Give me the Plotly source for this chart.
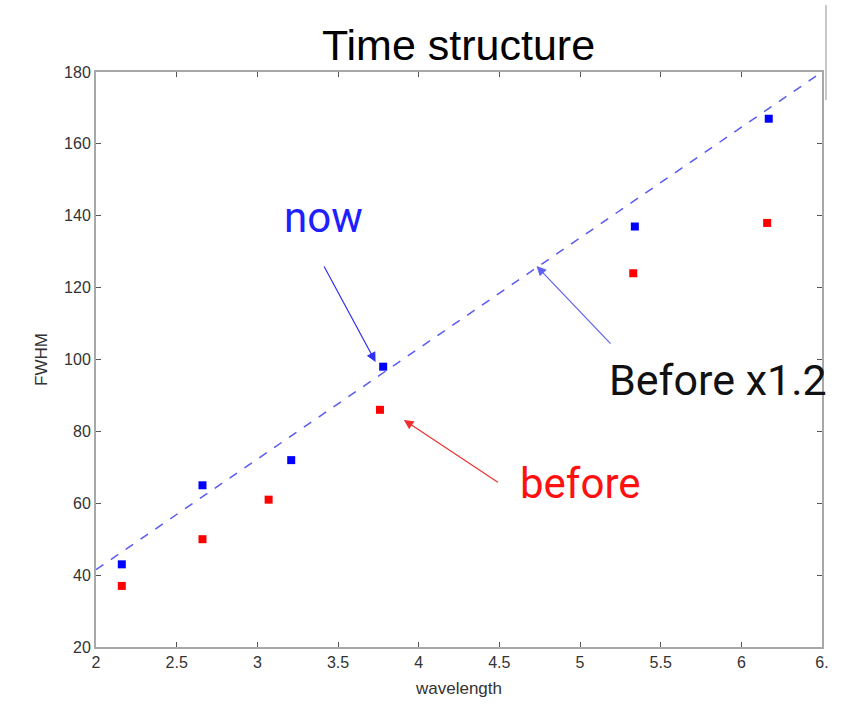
import plotly.graph_objects as go

# Measured pulse widths (FWHM) against wavelength
wavelength_now = [2.16, 2.66, 3.21, 3.78, 5.34, 6.17]
fwhm_now = [43, 65, 72, 98, 137, 167]

wavelength_before = [2.16, 2.66, 3.07, 3.76, 5.33, 6.16]
fwhm_before = [37, 50, 61, 86, 124, 138]

# Reference line: earlier values scaled by 1.2
ref_x = [2.0, 6.5]
ref_y = [41.5, 180.0]

x_ticks = [2, 2.5, 3, 3.5, 4, 4.5, 5, 5.5, 6, 6.5]
x_tick_text = ["2", "2.5", "3", "3.5", "4", "4.5", "5", "5.5", "6", "6."]
y_ticks = [20, 40, 60, 80, 100, 120, 140, 160, 180]

fig = go.Figure()

fig.add_trace(go.Scatter(
    x=ref_x, y=ref_y, mode="lines",
    line=dict(color="#5a5af0", width=1.5, dash="dash"),
    showlegend=False, hoverinfo="skip",
))
fig.add_trace(go.Scatter(
    x=wavelength_now, y=fwhm_now, mode="markers",
    marker=dict(symbol="square", size=8, color="#0000ff"),
    showlegend=False, name="now",
))
fig.add_trace(go.Scatter(
    x=wavelength_before, y=fwhm_before, mode="markers",
    marker=dict(symbol="square", size=8, color="#ff0000"),
    showlegend=False, name="before",
))

label_font = "Roboto, 'Open Sans', sans-serif"
axis_font = "Liberation Sans, Arial, sans-serif"

annotations = [
    # arrows
    dict(x=3.733, y=99.3, ax=3.409, ay=126.3, axref="x", ayref="y",
         xref="x", yref="y", text="", showarrow=True,
         arrowhead=2, arrowsize=1.6, arrowwidth=1.2, arrowcolor="#3030f0"),
    dict(x=4.731, y=126.0, ax=5.198, ay=104.0, axref="x", ayref="y",
         xref="x", yref="y", text="", showarrow=True,
         arrowhead=2, arrowsize=1.6, arrowwidth=1.2, arrowcolor="#6060f0"),
    dict(x=3.908, y=83.2, ax=4.500, ay=65.6, axref="x", ayref="y",
         xref="x", yref="y", text="", showarrow=True,
         arrowhead=2, arrowsize=1.6, arrowwidth=1.2, arrowcolor="#f03030"),
    # labels
    dict(x=3.409, y=139.4, xref="x", yref="y", text="now", showarrow=False,
         xanchor="center", yanchor="middle",
         font=dict(family=label_font, size=42, color="#2020ff")),
    dict(x=5.165, y=94.3, xref="x", yref="y", text="Before x1.2", showarrow=False,
         xanchor="left", yanchor="middle",
         font=dict(family=label_font, size=43, color="#111111")),
    dict(x=4.615, y=65.4, xref="x", yref="y", text="before", showarrow=False,
         xanchor="left", yanchor="middle",
         font=dict(family=label_font, size=42, color="#ff1010")),
]

axis_common = dict(
    showline=True, linecolor="#a8a8a8", linewidth=2, mirror="ticks",
    ticks="inside", ticklen=5, tickcolor="#555555", tickwidth=1,
    showgrid=False, zeroline=False,
    tickfont=dict(family=axis_font, size=16, color="#333333"),
)

fig.update_layout(
    width=857, height=713,
    margin=dict(l=96, r=35, t=72, b=66),
    paper_bgcolor="white", plot_bgcolor="white",
    title=dict(text="Time structure", x=0.535, xanchor="center",
               y=1 - 45 / 713, yanchor="middle", yref="container",
               font=dict(family=axis_font, size=43, color="#000000")),
    xaxis=dict(range=[2, 6.5], tickvals=x_ticks, ticktext=x_tick_text,
               title=dict(text="wavelength", standoff=12,
                          font=dict(family=axis_font, size=17, color="#333333")),
               **axis_common),
    yaxis=dict(range=[20, 180], tickvals=y_ticks,
               title=dict(text="FWHM", standoff=12,
                          font=dict(family=axis_font, size=17, color="#333333")),
               **axis_common),
    annotations=annotations,
    shapes=[dict(type="line", xref="paper", yref="paper",
                 x0=1.0055, x1=1.0055, y0=0.951, y1=1.1165,
                 line=dict(color="#c8c8c8", width=2))],
)

fig.write_html("out.html")
